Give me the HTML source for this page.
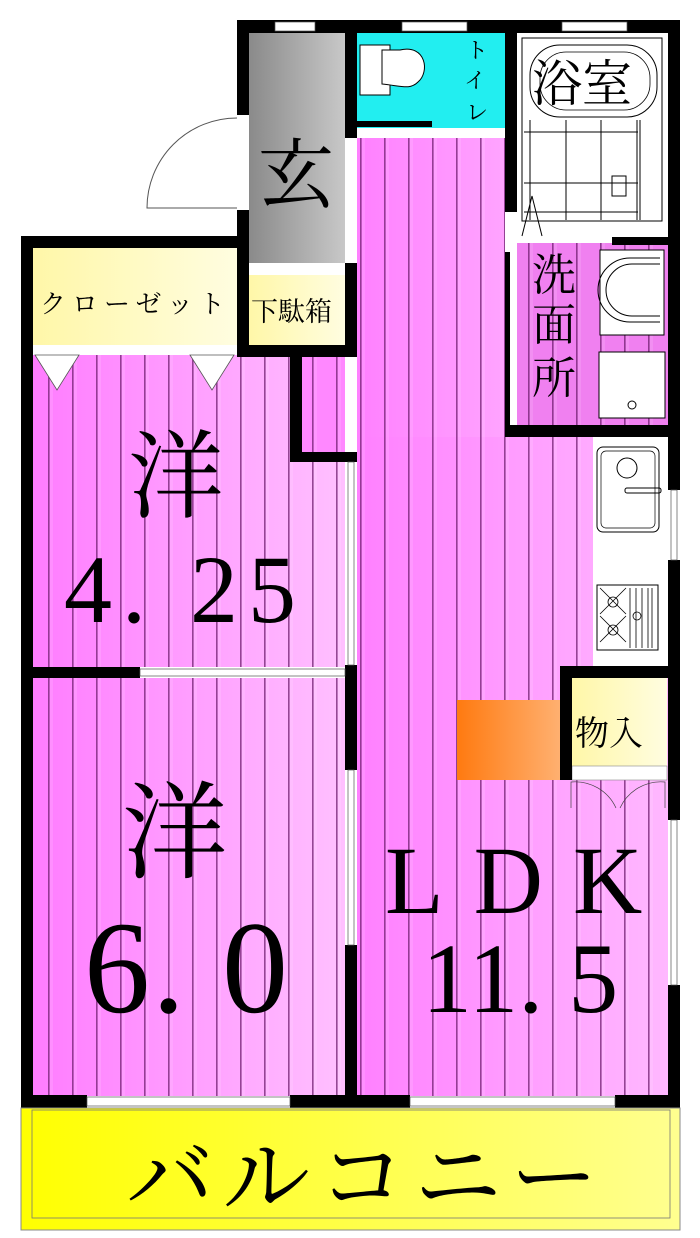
<!DOCTYPE html>
<html><head><meta charset="utf-8"><style>
html,body{margin:0;padding:0;background:#fff;}
svg{display:block;}
text{font-family:"Liberation Serif","Noto Serif CJK JP","Noto Serif CJK SC",serif;fill:#000;}
</style></head><body>
<svg width="700" height="1238" viewBox="0 0 700 1238" xmlns="http://www.w3.org/2000/svg">
<defs>
<linearGradient id="pk" x1="0" x2="1" y1="0" y2="0">
<stop offset="0" stop-color="#ff7cff"/><stop offset="1" stop-color="#ffc0ff"/></linearGradient>
<linearGradient id="pk2" x1="0" x2="1" y1="0" y2="0">
<stop offset="0" stop-color="#ff80ff"/><stop offset="0.5" stop-color="#ff9cff"/><stop offset="1" stop-color="#ffb8ff"/></linearGradient>
<linearGradient id="pk3" x1="0" x2="1" y1="0" y2="0">
<stop offset="0" stop-color="#ff80ff"/><stop offset="1" stop-color="#ffa4ff"/></linearGradient>
<pattern id="st" width="24" height="10" patternUnits="userSpaceOnUse">
<rect x="0" y="0" width="1.6" height="10" fill="#702070" opacity="0.75"/>
<rect x="2" y="0" width="3" height="10" fill="#ffffff" opacity="0.12"/>
</pattern>
<linearGradient id="gr" x1="0" x2="1"><stop offset="0" stop-color="#8a8a8a"/><stop offset="1" stop-color="#c8c8c8"/></linearGradient>
<linearGradient id="yl" x1="0" x2="1"><stop offset="0" stop-color="#ffff00"/><stop offset="1" stop-color="#ffff90"/></linearGradient>
<linearGradient id="ly" x1="0" x2="1"><stop offset="0" stop-color="#fff7a8"/><stop offset="1" stop-color="#fffde0"/></linearGradient>
<linearGradient id="or" x1="0" x2="1"><stop offset="0" stop-color="#ff7a10"/><stop offset="1" stop-color="#ffb070"/></linearGradient>
</defs>

<rect x="33" y="355" width="312" height="312" fill="url(#pk)"/>
<rect x="33" y="355" width="312" height="312" fill="url(#st)"/>
<rect x="33" y="678" width="312" height="418" fill="url(#pk)"/>
<rect x="33" y="678" width="312" height="418" fill="url(#st)"/>
<rect x="302" y="357" width="43" height="95" fill="#ff88ff"/>
<rect x="302" y="357" width="43" height="95" fill="url(#st)"/>
<rect x="357" y="138" width="148" height="300" fill="url(#pk3)"/>
<rect x="357" y="138" width="148" height="300" fill="url(#st)"/>
<rect x="357" y="437" width="311" height="659" fill="url(#pk2)"/>
<rect x="357" y="437" width="311" height="659" fill="url(#st)"/>
<rect x="517" y="243" width="151" height="182" fill="#f080f0"/>
<rect x="517" y="243" width="151" height="182" fill="url(#st)"/>

<rect x="249" y="33" width="96" height="230" fill="url(#gr)"/>
<rect x="357" y="33" width="148" height="95" fill="#22eef0"/>
<rect x="357" y="128" width="148" height="10" fill="#fff"/>
<rect x="357" y="121" width="75" height="6" fill="#000"/>
<path d="M360 45 h30 v50 h-30z" fill="#fff" stroke="#000" stroke-width="1"/>
<path d="M382 50 h18 c26 -6 30 22 18 32 c-8 8 -16 4 -36 2 z" fill="#fff" stroke="#000" stroke-width="1"/>
<text x="466" y="58" font-size="22">ト</text>
<text x="464" y="88" font-size="22">イ</text>
<text x="466" y="120" font-size="22">レ</text>
<rect x="517" y="33" width="151" height="204" fill="#fff"/>
<rect x="522" y="38" width="140" height="183" fill="none" stroke="#000" stroke-width="1"/>
<rect x="530" y="45" width="127" height="72" rx="30" fill="none" stroke="#000" stroke-width="1"/>
<rect x="540" y="52" width="110" height="58" rx="26" fill="none" stroke="#000" stroke-width="0.8"/>
<g stroke="#000" stroke-width="1" fill="none">
<path d="M524 132 h114 M524 183 h114 M524 212 h114 M530 120 v100 M566 120 v100 M601 120 v100 M637 120 v100 M640 120 v100"/>
<path d="M522 236 l10 -40 l10 40"/>
<rect x="612" y="176" width="14" height="20"/>
</g>
<text x="532" y="101" font-size="50">浴室</text>
<rect x="600" y="250" width="64" height="85" fill="#fff" stroke="#000" stroke-width="1"/>
<path d="M660 258 h-30 a32 32 0 0 0 0 64 h30" fill="none" stroke="#000"/>
<path d="M660 264 h-28 a25 25 0 0 0 0 52 h28" fill="none" stroke="#000"/>
<rect x="599" y="352" width="66" height="66" fill="#fff" stroke="#000"/>
<circle cx="632" cy="405" r="4" fill="none" stroke="#000"/>
<text x="532" y="290" font-size="44">洗</text>
<text x="532" y="340" font-size="44">面</text>
<text x="532" y="393" font-size="44">所</text>
<rect x="593" y="437" width="75" height="229" fill="#fff"/>
<rect x="597" y="447" width="62" height="85" rx="6" fill="none" stroke="#000"/>
<rect x="601" y="451" width="54" height="77" rx="5" fill="none" stroke="#000" stroke-width="0.7"/>
<circle cx="627" cy="468" r="10" fill="none" stroke="#000"/>
<rect x="625" y="488" width="36" height="5" rx="2" fill="none" stroke="#000"/>
<rect x="597" y="585" width="61" height="65" fill="none" stroke="#000"/>
<g stroke="#000" stroke-width="0.8" fill="none">
<circle cx="613" cy="602" r="5"/><circle cx="613" cy="630" r="5"/><circle cx="637" cy="616" r="4"/>
<path d="M600 588 l26 26 M626 588 l-26 26 M600 616 l26 26 M626 616 l-26 26 M630 588 v60 M636 588 v60 M642 588 v60 M648 588 v60 M652 588 v60"/>
</g>
<rect x="33" y="248" width="204" height="97" fill="url(#ly)"/>
<rect x="33" y="345" width="204" height="10" fill="#fff"/>
<path d="M35 355 l22 35 l22 -35z M190 355 l22 35 l22 -35z" fill="#fff" stroke="#555" stroke-width="0.8"/>
<text x="40" y="313" font-size="26" letter-spacing="6">クローゼット</text>
<rect x="249" y="263" width="96" height="82" fill="url(#ly)"/>
<rect x="249" y="263" width="96" height="12" fill="#fff"/>
<text x="251" y="321" font-size="27">下駄箱</text>
<text x="258" y="202" font-size="76">玄</text>
<rect x="572" y="678" width="95" height="88" fill="url(#ly)"/>
<rect x="572" y="766" width="95" height="14" fill="#fff" stroke="#888" stroke-width="0.6"/>
<text x="575" y="745" font-size="34">物入</text>
<path d="M571 808 v-26 a45 45 0 0 1 45 26 M665 808 v-26 a45 45 0 0 0 -45 26" fill="none" stroke="#444" stroke-width="0.7"/>
<rect x="457" y="700" width="103" height="80" fill="url(#or)"/>

<path d="M237 118 a90 90 0 0 0 -90 90 h90" fill="none" stroke="#555" stroke-width="1"/>

<g fill="#000">
<rect x="237" y="20" width="443" height="13"/>
<rect x="237" y="20" width="12" height="95"/>
<rect x="237" y="210" width="12" height="145"/>
<rect x="21" y="236" width="228" height="12"/>
<rect x="21" y="236" width="12" height="874"/>
<rect x="345" y="33" width="12" height="105"/>
<rect x="345" y="263" width="12" height="94"/>
<rect x="237" y="345" width="120" height="12"/>
<rect x="290" y="345" width="12" height="117"/>
<rect x="290" y="452" width="67" height="10"/>
<rect x="505" y="20" width="12" height="192"/>
<rect x="612" y="237" width="68" height="8"/>
<rect x="505" y="252" width="5" height="185"/>
<rect x="505" y="425" width="175" height="12"/>
<rect x="668" y="20" width="12" height="470"/>
<rect x="668" y="560" width="12" height="260"/>
<rect x="668" y="985" width="12" height="125"/>
<rect x="21" y="667" width="119" height="11"/>
<rect x="345" y="665" width="12" height="105"/>
<rect x="345" y="945" width="12" height="160"/>
<rect x="560" y="666" width="120" height="12"/>
<rect x="560" y="666" width="12" height="114"/>
<rect x="21" y="1095" width="66" height="13"/>
<rect x="290" y="1095" width="120" height="13"/>
<rect x="615" y="1095" width="65" height="13"/>
</g>
<g fill="#fff" stroke="#555" stroke-width="0.7">
<rect x="275" y="22" width="40" height="9"/><rect x="402" y="22" width="65" height="9"/><rect x="562" y="22" width="65" height="9"/>
<rect x="87" y="1097" width="203" height="9"/><rect x="410" y="1097" width="205" height="9"/>
<rect x="140" y="669" width="205" height="7"/>
<rect x="348" y="462" width="6" height="203"/>
<rect x="348" y="770" width="6" height="175"/>
<rect x="671" y="490" width="6" height="70"/>
<rect x="671" y="820" width="6" height="165"/>
</g>
<rect x="21" y="1108" width="659" height="122" fill="url(#yl)"/>
<rect x="21" y="1108" width="659" height="122" fill="none" stroke="#888" stroke-width="1"/>
<rect x="32" y="1110" width="638" height="108" fill="none" stroke="#777" stroke-width="0.8"/>
<text x="126" y="1208" font-size="88" letter-spacing="8">バルコニー</text>

<text x="128" y="510" font-size="96">洋</text>
<text x="64" y="622" font-size="96" letter-spacing="10">4. 25</text>
<text x="122" y="870" font-size="106">洋</text>
<text x="84" y="1012" font-size="132" letter-spacing="2">6. 0</text>
<text x="385" y="913" font-size="96" letter-spacing="30">LDK</text>
<text x="422" y="1012" font-size="100">11. 5</text>
</svg>
</body></html>
